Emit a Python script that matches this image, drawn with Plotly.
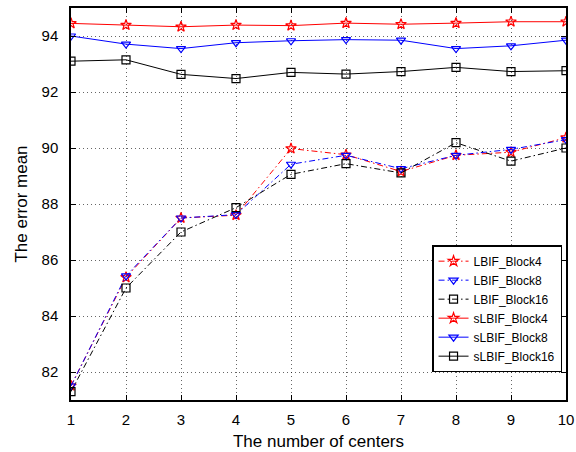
import plotly.graph_objects as go

centers = [1, 2, 3, 4, 5, 6, 7, 8, 9, 10]

lbif_block4 = [81.51, 85.38, 87.50, 87.60, 89.98, 89.76, 89.16, 89.74, 89.85, 90.37]
lbif_block8 = [81.50, 85.43, 87.50, 87.62, 89.42, 89.74, 89.26, 89.74, 89.95, 90.30]
lbif_block16 = [81.30, 85.00, 87.00, 87.87, 89.06, 89.44, 89.11, 90.19, 89.53, 90.00]
slbif_block4 = [94.45, 94.39, 94.33, 94.39, 94.37, 94.46, 94.42, 94.46, 94.51, 94.51]
slbif_block8 = [94.00, 93.71, 93.55, 93.76, 93.83, 93.87, 93.85, 93.55, 93.65, 93.85]
slbif_block16 = [93.10, 93.15, 92.63, 92.48, 92.70, 92.64, 92.73, 92.88, 92.73, 92.76]

y_ticks = [82, 84, 86, 88, 90, 92, 94]

series = [
    ("LBIF_Block4", lbif_block4, "#ff0000", "star-open", "6px,3px,1.5px,3px"),
    ("LBIF_Block8", lbif_block8, "#0000ff", "triangle-down-open", "6px,3px,1.5px,3px"),
    ("LBIF_Block16", lbif_block16, "#000000", "square-open", "6px,3px,1.5px,3px"),
    ("sLBIF_Block4", slbif_block4, "#ff0000", "star-open", "solid"),
    ("sLBIF_Block8", slbif_block8, "#0000ff", "triangle-down-open", "solid"),
    ("sLBIF_Block16", slbif_block16, "#000000", "square-open", "solid"),
]

fig = go.Figure()
for name, vals, color, symbol, dash in series:
    fig.add_trace(go.Scatter(
        x=centers, y=vals, name=name, mode="lines+markers",
        line=dict(color=color, width=1, dash=dash),
        marker=dict(symbol=symbol, size=8, color=color,
                    line=dict(color=color, width=1.2)),
    ))

font_family = "Liberation Sans, Arial"
axis_common = dict(
    showline=True, linecolor="black", linewidth=1.5, mirror="ticks",
    ticks="inside", ticklen=5, tickcolor="black", tickwidth=1,
    showgrid=True, gridcolor="rgba(0,0,0,0.6)", griddash="1px,3px", gridwidth=1,
    zeroline=False, automargin=False,
    tickfont=dict(family=font_family, size=15, color="black"),
)

fig.update_xaxes(
    range=[1, 10], tickmode="array", tickvals=centers,
    ticklabelstandoff=5,
    title=dict(text="The number of centers", standoff=8,
               font=dict(family=font_family, size=17, color="black")),
    **axis_common,
)
fig.update_yaxes(
    range=[81, 95], tickmode="array", tickvals=y_ticks,
    ticklabelstandoff=8,
    title=dict(text="The error mean", standoff=10,
               font=dict(family=font_family, size=17, color="black")),
    **axis_common,
)

fig.update_layout(
    width=576, height=452,
    margin=dict(l=71, r=10, t=8, b=52),
    plot_bgcolor="white", paper_bgcolor="white",
    legend=dict(
        x=0.992, y=0.071, xanchor="right", yanchor="bottom",
        bgcolor="white", bordercolor="black", borderwidth=1.5,
        font=dict(family=font_family, size=12, color="black"),
        tracegroupgap=0, itemwidth=30,
    ),
    showlegend=True,
)

fig.write_html("out.html")
